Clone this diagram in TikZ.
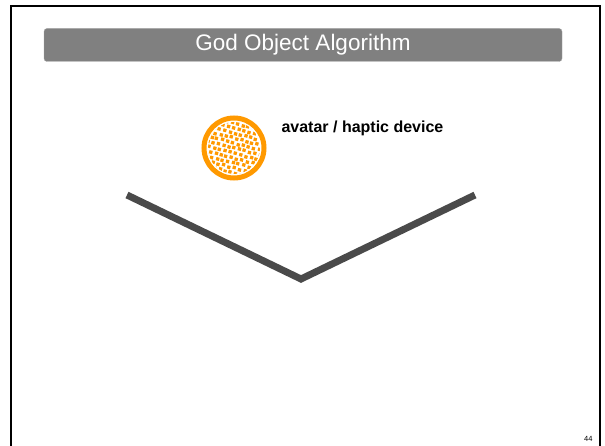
\documentclass[tikz,border=0pt]{standalone}
\usepackage{fontspec}
\setmainfont{Liberation Sans}
\usetikzlibrary{positioning}
\definecolor{titlegray}{RGB}{128,128,128}
\definecolor{avatarorange}{RGB}{255,153,0}
\definecolor{wallgray}{RGB}{74,74,74}

\begin{document}
\begin{tikzpicture}[x=1pt,y=-1pt,
  titlebar/.style={fill=titlegray, draw=gray!70, rounded corners=3pt,
    minimum width=518pt, minimum height=33pt, inner sep=0pt,
    text=white, font=\fontsize{22.5}{26}\selectfont},
  avatarball/.style={circle, draw=avatarorange, line width=5pt,
    minimum size=60pt, inner sep=0pt},
  wall/.style={line width=7pt, wallgray, line join=miter}]
\useasboundingbox (0,0) rectangle (605,446);

% slide frame
\draw[line width=2pt] (11,470) -- (11,6) -- (600,6) -- (600,470);

\node[titlebar] (title) at (303,45) {God Object Algorithm};

% avatar
\node[avatarball] (avatar) at (234,148) {};
\begin{scope}
\clip (avatar.center) circle (26);
\pgfmathsetseed{5}
\foreach \i in {-7,...,7}
  \foreach \j in {-7,...,7} {
    \pgfmathsetmacro\dx{\i*5.4 + abs(mod(\j,2))*2.7 + rand*0.7 - 1.6}
    \pgfmathsetmacro\dy{\j*4.8 + rand*0.7 - 1.6}
    \fill[avatarorange, shift={(avatar.center)}, rotate=-15] (\dx,\dy) rectangle ++(3.3,3.3);
  }
\end{scope}
\node[anchor=base west, font=\fontsize{16}{19}\selectfont\bfseries] (label) at (278,133) {avatar / haptic device};

% surface
\coordinate (wallL) at (127,195);
\coordinate (wallV) at (301,279);
\coordinate (wallR) at (475,195);
\draw[wall] (wallL) -- (wallV) -- (wallR);

\node[anchor=south east, font=\fontsize{7.5}{9}\selectfont] (pagenum) at (596,445) {44};
\end{tikzpicture}
\end{document}
